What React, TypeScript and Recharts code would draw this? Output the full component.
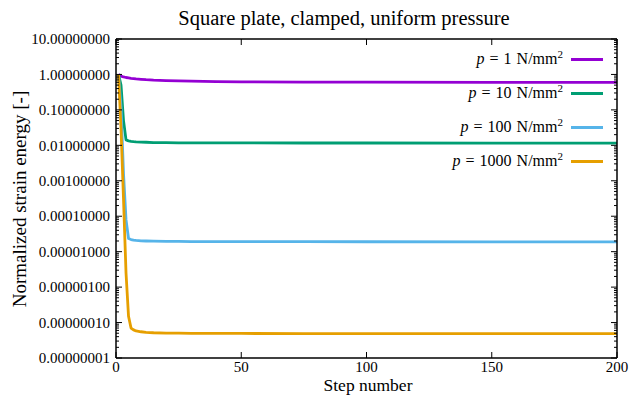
import React from 'react';
import { LineChart, Line, XAxis, YAxis, Legend, Label } from 'recharts';

const FONT = '"Liberation Serif", "Times New Roman", serif';

const steps = [1, 2, 3, 4, 5, 6, 7, 8, 10, 12, 15, 20, 25, 30, 40, 50, 75, 100, 150, 200];
const p1 = [1, 0.9, 0.85, 0.82, 0.8, 0.78, 0.765, 0.75, 0.73, 0.71, 0.69, 0.67, 0.655, 0.645, 0.63, 0.62, 0.61, 0.605, 0.6, 0.6];
const p10 = [1, 0.5, 0.05, 0.0142, 0.0134, 0.013, 0.0127, 0.0125, 0.0123, 0.0122, 0.012, 0.0119, 0.0118, 0.01175, 0.0117, 0.01168, 0.01165, 0.01163, 0.0116, 0.0116];
const p100 = [1, 0.12, 1.6e-3, 8e-5, 2.35e-5, 2.2e-5, 2.12e-5, 2.07e-5, 2.02e-5, 2.0e-5, 1.98e-5, 1.96e-5, 1.94e-5, 1.93e-5, 1.92e-5, 1.915e-5, 1.91e-5, 1.905e-5, 1.9e-5, 1.9e-5];
const p1000 = [1, 0.03, 3e-4, 2.5e-6, 1.5e-7, 7e-8, 6.2e-8, 5.8e-8, 5.5e-8, 5.3e-8, 5.15e-8, 5.05e-8, 5.0e-8, 4.97e-8, 4.93e-8, 4.92e-8, 4.9e-8, 4.9e-8, 4.9e-8, 4.9e-8];

const pressures = ['1', '10', '100', '1000'];
const colors = ['#9400d3', '#009e73', '#56b4e9', '#e69f00'];
const seriesKeys = ['p1', 'p10', 'p100', 'p1000'];
const seriesValues = [p1, p10, p100, p1000];

const xTicks = [0, 50, 100, 150, 200];
const yMajorTicks = [1e-8, 1e-7, 1e-6, 1e-5, 1e-4, 1e-3, 1e-2, 1e-1, 1, 10];
const yMinorTicks: number[] = [];
for (let d = -8; d < 1; d++) {
  for (let k = 2; k <= 9; k++) yMinorTicks.push(k * Math.pow(10, d));
}
const yAllTicks = [...yMajorTicks, ...yMinorTicks].sort((a, b) => a - b);

const data = steps.map((s, i) => {
  const row: any = { step: s };
  seriesKeys.forEach((k, j) => (row[k] = seriesValues[j][i]));
  return row;
});

const isMajor = (v: number) => {
  const l = Math.log10(v);
  return Math.abs(l - Math.round(l)) < 1e-6;
};

const LeftTick = (props: any) => {
  const { x, y, payload } = props;
  const v = payload.value;
  const major = isMajor(v);
  return (
    <g>
      <line x1={x} x2={x + (major ? 6 : 3)} y1={y} y2={y} stroke="#000" strokeWidth={1} />
      {major && (
        <text x={x - 6} y={y} dy="0.35em" textAnchor="end" fontFamily={FONT} fontSize={15} fill="#000">
          {v.toFixed(8)}
        </text>
      )}
    </g>
  );
};

const RightTick = (props: any) => {
  const { x, y, payload } = props;
  const major = isMajor(payload.value);
  return <line x1={x} x2={x - (major ? 6 : 3)} y1={y} y2={y} stroke="#000" strokeWidth={1} />;
};

const BottomTick = (props: any) => {
  const { x, y, payload } = props;
  return (
    <g>
      <line x1={x} x2={x} y1={y} y2={y - 6} stroke="#000" strokeWidth={1} />
      <text x={x} y={y + 14} textAnchor="middle" fontFamily={FONT} fontSize={15} fill="#000">
        {payload.value}
      </text>
    </g>
  );
};

const TopTick = (props: any) => {
  const { x, y } = props;
  return <line x1={x} x2={x} y1={y} y2={y + 6} stroke="#000" strokeWidth={1} />;
};

const renderLegend = () => (
  <div style={{ fontFamily: FONT, fontSize: 16, color: '#000' }}>
    {pressures.map((p, i) => (
      <div
        key={p}
        style={{ display: 'flex', justifyContent: 'flex-end', alignItems: 'center', height: 34 }}
      >
        <span style={{ whiteSpace: 'nowrap', wordSpacing: 1 }}>
          <i>p</i> = {p} N/mm
          <sup style={{ fontSize: 11, lineHeight: 0, verticalAlign: 'super' }}>2</sup>
        </span>
        <span
          style={{ display: 'inline-block', width: 32, height: 3, background: colors[i], marginLeft: 8 }}
        />
      </div>
    ))}
  </div>
);

export default function App() {
  return (
    <div style={{ position: 'absolute', left: 0, top: 0, width: 629, height: 395, background: '#fff' }}>
      <LineChart width={629} height={395} data={data} margin={{ top: 38, right: 11, bottom: 0, left: 16 }}>
        <XAxis
          xAxisId="B"
          dataKey="step"
          type="number"
          domain={[0, 200]}
          ticks={xTicks}
          interval={0}
          height={37}
          tickSize={0}
          tickMargin={0}
          tickLine={false}
          tick={<BottomTick />}
          axisLine={{ stroke: '#000', strokeWidth: 1.5 }}
          label={
            <Label
              content={() => (
                <text x={368} y={391} textAnchor="middle" fontFamily={FONT} fontSize={17.5} fill="#000">
                  Step number
                </text>
              )}
            />
          }
        />
        <XAxis
          xAxisId="T"
          orientation="top"
          dataKey="step"
          type="number"
          domain={[0, 200]}
          ticks={xTicks}
          interval={0}
          height={1}
          tickSize={0}
          tickMargin={0}
          tickLine={false}
          tick={<TopTick />}
          axisLine={{ stroke: '#000', strokeWidth: 1.5 }}
          label={
            <Label
              content={() => (
                <text x={344} y={25} textAnchor="middle" fontFamily={FONT} fontSize={20.5} fill="#000">
                  Square plate, clamped, uniform pressure
                </text>
              )}
            />
          }
        />
        <YAxis
          yAxisId="L"
          scale="log"
          domain={[1e-8, 10]}
          allowDataOverflow
          ticks={yAllTicks}
          interval={0}
          width={100}
          tickSize={0}
          tickMargin={0}
          tickLine={false}
          tick={<LeftTick />}
          axisLine={{ stroke: '#000', strokeWidth: 1.5 }}
          label={
            <Label
              content={() => (
                <text
                  x={26}
                  y={199}
                  transform="rotate(-90 26 199)"
                  textAnchor="middle"
                  fontFamily={FONT}
                  fontSize={19}
                  fill="#000"
                >
                  Normalized strain energy [-]
                </text>
              )}
            />
          }
        />
        <YAxis
          yAxisId="R"
          orientation="right"
          scale="log"
          domain={[1e-8, 10]}
          allowDataOverflow
          ticks={yAllTicks}
          interval={0}
          width={1}
          tickSize={0}
          tickMargin={0}
          tickLine={false}
          tick={<RightTick />}
          axisLine={{ stroke: '#000', strokeWidth: 1.5 }}
        />
        <Legend
          layout="vertical"
          align="center"
          verticalAlign="middle"
          content={renderLegend}
          wrapperStyle={{ left: 0, top: 42, width: 603, height: 'auto', bottom: 'auto', right: 'auto' }}
        />
        {seriesKeys.map((k, i) => (
          <Line
            key={k}
            xAxisId="B"
            yAxisId="L"
            dataKey={k}
            type="linear"
            stroke={colors[i]}
            strokeWidth={2.8}
            strokeLinejoin="round"
            dot={false}
            activeDot={false}
            isAnimationActive={false}
          />
        ))}
      </LineChart>
    </div>
  );
}
